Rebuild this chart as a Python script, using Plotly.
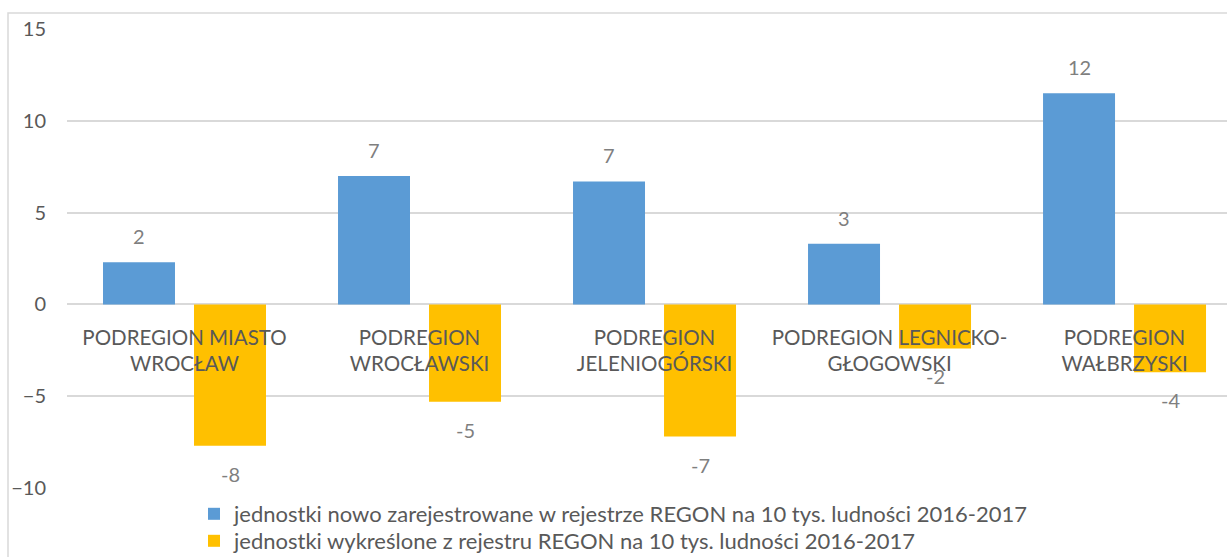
import plotly.graph_objects as go

# Subregions of Dolnośląskie voivodeship
categories = [
    "PODREGION MIASTO WROCŁAW",
    "PODREGION WROCŁAWSKI",
    "PODREGION JELENIOGÓRSKI",
    "PODREGION LEGNICKO-GŁOGOWSKI",
    "PODREGION WAŁBRZYSKI",
]
tick_labels = [
    "PODREGION MIASTO<br>WROCŁAW",
    "PODREGION<br>WROCŁAWSKI",
    "PODREGION<br>JELENIOGÓRSKI",
    "PODREGION LEGNICKO-<br>GŁOGOWSKI",
    "PODREGION<br>WAŁBRZYSKI",
]
# Units per 10 thousand inhabitants, 2016-2017
registered = [2.3, 7.0, 6.7, 3.3, 11.5]
deregistered = [-7.7, -5.3, -7.2, -2.4, -3.7]

name_registered = "jednostki nowo zarejestrowane w rejestrze REGON na 10 tys. ludności 2016-2017"
name_deregistered = "jednostki wykreślone z rejestru REGON na 10 tys. ludności 2016-2017"

FONT = "Lato, 'Open Sans', sans-serif"
BLUE = "#5B9BD5"
ORANGE = "#FFC000"
GRID = "#D9D9D9"
AXIS_TEXT = "#595959"
LABEL_TEXT = "#7F7F7F"

W, H = 1227, 557
TOP, BOTTOM_PX, LEFT = 29, 488, 67       # plot area edges in pixels
AREA_H = H - TOP                          # paper height (margin b = 0)


def py(pixel_y):
    """Pixel row -> paper fraction."""
    return (H - pixel_y) / AREA_H


def px(pixel_x):
    """Pixel column -> paper fraction."""
    return (pixel_x - LEFT) / (W - LEFT)


fig = go.Figure()
fig.add_trace(go.Bar(x=categories, y=registered, name=name_registered,
                     marker=dict(color=BLUE, line=dict(width=0)),
                     legend="legend"))
fig.add_trace(go.Bar(x=categories, y=deregistered, name=name_deregistered,
                     marker=dict(color=ORANGE, line=dict(width=0)),
                     legend="legend2"))

# Value labels above / below each bar, rounded to whole units
SLOT_SHIFT = 45.5
annotations = []
for series, side in ((registered, -1), (deregistered, 1)):
    for cat, v in zip(categories, series):
        annotations.append(dict(
            x=cat, y=v, xref="x", yref="y",
            text=f"{v:.0f}", showarrow=False,
            xshift=side * SLOT_SHIFT,
            yshift=26 if v >= 0 else -28,
            yanchor="middle",
            font=dict(family=FONT, size=20, color=LABEL_TEXT),
        ))

legend_style = dict(
    orientation="v", x=px(194), xanchor="left", yanchor="middle",
    font=dict(family=FONT, size=22, color=AXIS_TEXT),
    bgcolor="rgba(0,0,0,0)", itemwidth=30,
)

fig.update_layout(
    width=W, height=H, autosize=False,
    margin=dict(l=LEFT, r=0, t=TOP, b=0, autoexpand=False),
    paper_bgcolor="white", plot_bgcolor="white",
    barmode="group", bargap=0.2255, bargroupgap=0.209,
    font=dict(family=FONT, size=20, color=AXIS_TEXT),
    annotations=annotations,
    showlegend=True,
    legend=dict(legend_style, y=py(514)),
    legend2=dict(legend_style, y=py(541)),
    xaxis=dict(
        type="category", range=[-0.5, 4.436],
        anchor="free", position=py(304.3),
        tickmode="array", tickvals=categories, ticktext=tick_labels,
        tickangle=0, showgrid=False, showline=False, ticks="",
        zeroline=False, ticklabelstandoff=19,
        tickfont=dict(family=FONT, size=20.5, color=AXIS_TEXT),
    ),
    yaxis=dict(
        domain=[py(BOTTOM_PX), 1],
        range=[-10, 15], tick0=0, dtick=5,
        showgrid=True, gridcolor=GRID, gridwidth=1.5,
        zeroline=False, showline=False, ticks="",
        ticklabelstandoff=20,
        tickfont=dict(family=FONT, size=20, color=AXIS_TEXT),
    ),
    shapes=[dict(
        type="rect", xref="paper", yref="paper",
        x0=px(8), x1=1.2,
        y0=-0.2, y1=py(13),
        line=dict(color=GRID, width=1.5), fillcolor="rgba(0,0,0,0)",
        layer="below",
    )],
)

fig.write_html("out.html")
